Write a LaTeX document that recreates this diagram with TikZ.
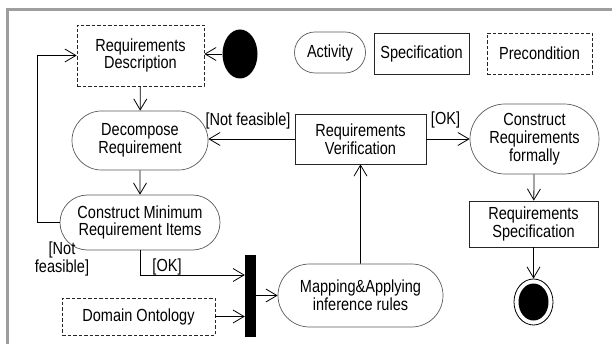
\documentclass[tikz,border=0pt]{standalone}
\usepackage{fontspec}
\setmainfont{Liberation Sans}[FakeStretch=0.83]
\usetikzlibrary{arrows.meta,shapes.misc,shapes.geometric}

\begin{document}
\begin{tikzpicture}[x=1pt,y=-1pt,
  every node/.style={font=\fontsize{17.5}{17.8}\selectfont, align=center, inner sep=0pt},
  activity/.style={rounded rectangle, draw=black!65, line width=0.7pt},
  spec/.style={rectangle, draw=black!85, line width=0.7pt},
  precond/.style={rectangle, draw=black!85, line width=0.7pt, dash pattern=on 3.5pt off 2pt},
  flow/.style={draw=black, line width=0.8pt, -{Straight Barb[length=11pt,width=13pt]}},
  guard/.style={}
]
\useasboundingbox (0,0) rectangle (612,344);
% frame edges
\draw[line width=3pt, black!38] (7.5,344) -- (7.5,9.5) -- (612,9.5);

% legend
\node[activity, minimum width=71, minimum height=41] (lgact) at (330,52.5) {Activity};
\node[spec, minimum width=95, minimum height=41] (lgspec) at (421.5,53.5) {Specification};
\node[precond, minimum width=105, minimum height=41] (lgpre) at (539.5,53.5) {Precondition};

% activity flow
\node[precond, minimum width=127, minimum height=61] (rd) at (140.5,55.5) {Requirements\\Description};
\node[ellipse, fill=black, minimum width=35, minimum height=49] (start) at (240,54) {};
\node[activity, minimum width=136, minimum height=59] (dr) at (140,140.5) {Decompose\\Requirement};
\node[spec, minimum width=131, minimum height=50] (rv) at (360.5,139) {Requirements\\Verification};
\node[activity, minimum width=129, minimum height=70] (crf) at (534.5,139) {Construct\\Requirements\\formally};
\node[spec, minimum width=129, minimum height=46] (rs) at (533.5,224) {Requirements\\Specification};
\node[ellipse, draw, line width=0.8pt, minimum width=39, minimum height=46] (end) at (533.5,302) {};
\node[ellipse, fill=black, minimum width=30, minimum height=37] (endcore) at (end.center) {};
\node[activity, minimum width=160, minimum height=55] (cmri) at (140,222.5) {Construct Minimum\\Requirement Items};
\node[rectangle, fill=black, minimum width=11, minimum height=82] (bar) at (250.5,296) {};
\node[precond, minimum width=153, minimum height=37] (do) at (138.5,316.5) {Domain Ontology};
\node[activity, minimum width=165, minimum height=63] (map) at (360.5,295.5) {Mapping\&Applying\\inference rules};

% guards
\node[guard] (nf1) at (248,121) {[Not feasible]};
\node[guard] (ok1) at (445.5,120) {[OK]};
\node[guard] (nf2) at (62,259) {[Not\\feasible]};
\node[guard] (ok2) at (167,267) {[OK]};

% connectors
\coordinate (loopx) at (37,0);
\coordinate (okturn) at (140,275);
\draw[flow] (start.west) -- (rd.east |- start.west);
\draw[flow] (rd) -- (dr);
\draw[flow] (dr) -- (cmri);
\draw[flow] (rv.west) -- (dr.east |- rv.west);
\draw[flow] (rv.east) -- (crf.west |- rv.east);
\draw[flow] (crf) -- (rs);
\draw[flow] (rs) -- (end);
\draw[flow] (cmri.west) -- (cmri.west -| loopx) -- (rd.west -| loopx) -- (rd.west);
\draw[flow] (cmri.south) -- (okturn) -- (bar.west |- okturn);
\draw[flow] (do.east) -- (bar.west |- do.east);
\draw[flow] (bar.east |- map.west) -- (map.west);
\draw[flow] (map) -- (rv);
\end{tikzpicture}
\end{document}
